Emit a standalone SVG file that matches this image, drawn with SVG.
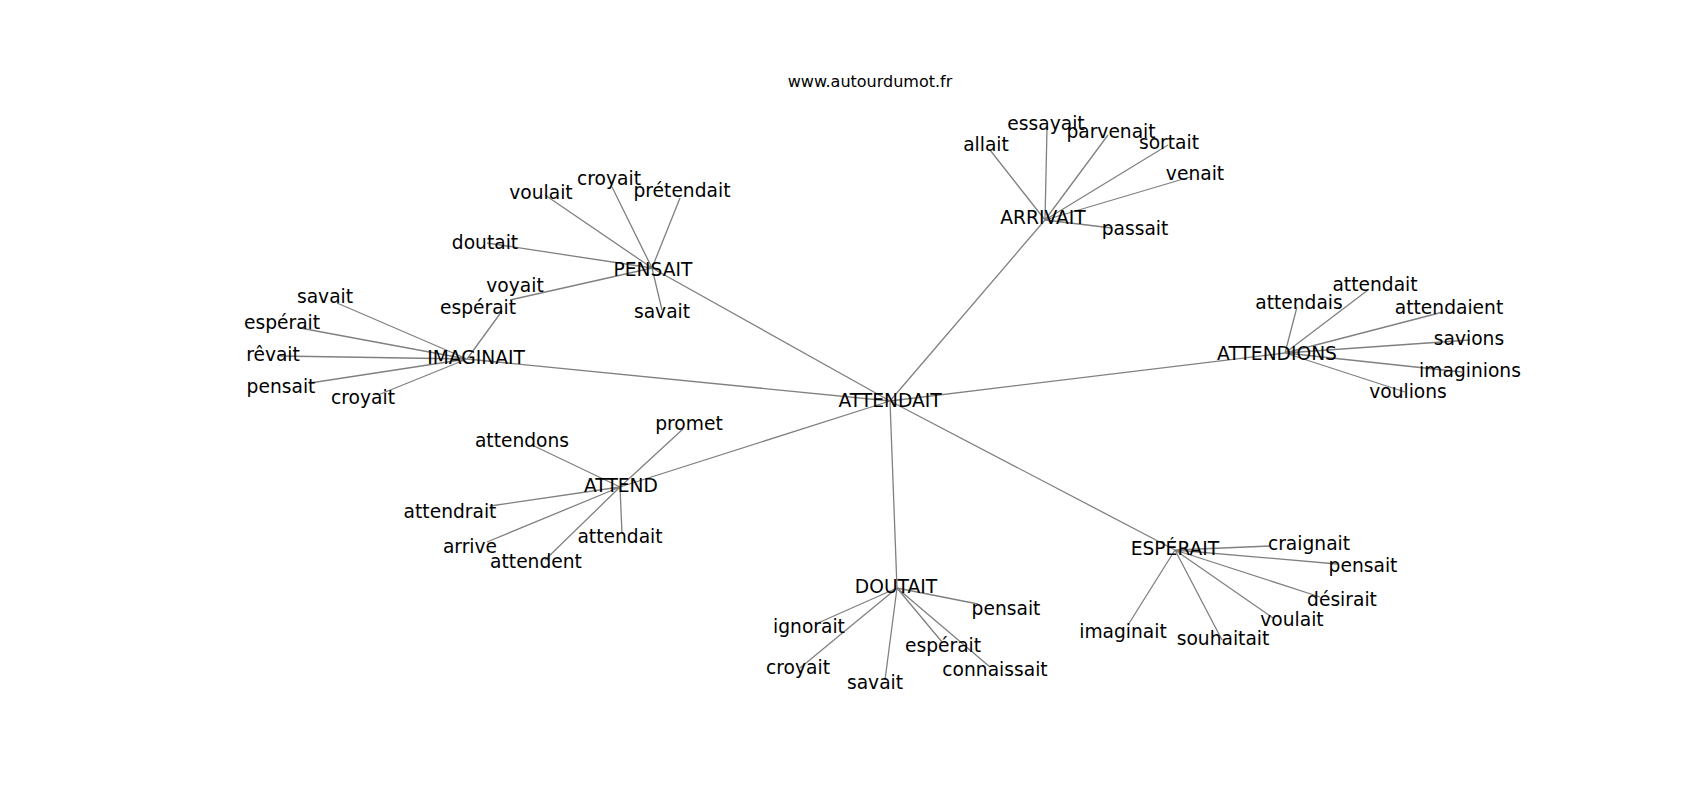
<svg xmlns="http://www.w3.org/2000/svg" width="1700" height="800" viewBox="0 0 1700 800">
<style>
.e{stroke:#808080;stroke-width:1.3;fill:none}
text{font-family:"DejaVu Sans","Liberation Sans",sans-serif;fill:#000;text-anchor:middle}
.l{font-size:18.67px}
.t{font-size:16px}
</style>
<rect width="1700" height="800" fill="#fff"/>
<text class="t" x="870" y="87">www.autourdumot.fr</text>
<g id="connectors">
<path class="e" d="M890 401L652 268M890 401L467 359M890 401L620 487M890 401L1045 220M890 401L1285 353M890 401L897 588M890 401L1175 550"/>
<path class="e" d="M652 268L545 195M652 268L612 187M652 268L680 198M652 268L487 243M652 268L510 300M652 268L662 310"/>
<path class="e" d="M467 359L502 311M467 359L337 303M467 359L300 328M467 359L280 356M467 359L310 383M467 359L378 395"/>
<path class="e" d="M620 487L532 445M620 487L683 429M620 487L490 506M620 487L487 542M620 487L545 560M620 487L622 533"/>
<path class="e" d="M1045 220L990 150M1045 220L1047 128M1045 220L1108 135M1045 220L1168 145M1045 220L1190 177M1045 220L1112 228"/>
<path class="e" d="M1285 353L1297 307M1285 353L1368 290M1285 353L1443 312M1285 353L1470 340M1285 353L1462 372M1285 353L1405 392"/>
<path class="e" d="M897 588L978 604M897 588L818 623M897 588L800 668M897 588L885 680M897 588L942 642M897 588L990 667"/>
<path class="e" d="M1175 550L1270 546M1175 550L1337 564M1175 550L1320 597M1175 550L1273 618M1175 550L1128 625M1175 550L1222 640"/>
</g>
<g id="n-attendait"><text class="l" x="890" y="407">ATTENDAIT</text></g>
<g id="n-pensait"><text class="l" x="653" y="276">PENSAIT</text></g>
<g id="n-pensait-voulait"><text class="l" x="541" y="199">voulait</text></g>
<g id="n-pensait-croyait"><text class="l" x="609" y="185">croyait</text></g>
<g id="n-pensait-pretendait"><text class="l" x="682" y="197">prétendait</text></g>
<g id="n-pensait-doutait"><text class="l" x="485" y="249">doutait</text></g>
<g id="n-pensait-voyait"><text class="l" x="515" y="292">voyait</text></g>
<g id="n-pensait-savait"><text class="l" x="662" y="318">savait</text></g>
<g id="n-imaginait"><text class="l" x="476" y="364">IMAGINAIT</text></g>
<g id="n-imaginait-esperait1"><text class="l" x="478" y="314">espérait</text></g>
<g id="n-imaginait-savait"><text class="l" x="325" y="303">savait</text></g>
<g id="n-imaginait-esperait2"><text class="l" x="282" y="329">espérait</text></g>
<g id="n-imaginait-revait"><text class="l" x="273" y="361">rêvait</text></g>
<g id="n-imaginait-pensait"><text class="l" x="281" y="393">pensait</text></g>
<g id="n-imaginait-croyait"><text class="l" x="363" y="404">croyait</text></g>
<g id="n-attend"><text class="l" x="621" y="492">ATTEND</text></g>
<g id="n-attend-attendons"><text class="l" x="522" y="447">attendons</text></g>
<g id="n-attend-promet"><text class="l" x="689" y="430">promet</text></g>
<g id="n-attend-attendrait"><text class="l" x="450" y="518">attendrait</text></g>
<g id="n-attend-arrive"><text class="l" x="470" y="553">arrive</text></g>
<g id="n-attend-attendent"><text class="l" x="536" y="568">attendent</text></g>
<g id="n-attend-attendait"><text class="l" x="620" y="543">attendait</text></g>
<g id="n-arrivait"><text class="l" x="1043" y="224">ARRIVAIT</text></g>
<g id="n-arrivait-allait"><text class="l" x="986" y="151">allait</text></g>
<g id="n-arrivait-essayait"><text class="l" x="1046" y="130">essayait</text></g>
<g id="n-arrivait-parvenait"><text class="l" x="1111" y="138">parvenait</text></g>
<g id="n-arrivait-sortait"><text class="l" x="1169" y="149">sortait</text></g>
<g id="n-arrivait-venait"><text class="l" x="1195" y="180">venait</text></g>
<g id="n-arrivait-passait"><text class="l" x="1135" y="235">passait</text></g>
<g id="n-attendions"><text class="l" x="1277" y="360">ATTENDIONS</text></g>
<g id="n-attendions-attendais"><text class="l" x="1299" y="309">attendais</text></g>
<g id="n-attendions-attendait"><text class="l" x="1375" y="291">attendait</text></g>
<g id="n-attendions-attendaient"><text class="l" x="1449" y="314">attendaient</text></g>
<g id="n-attendions-savions"><text class="l" x="1469" y="345">savions</text></g>
<g id="n-attendions-imaginions"><text class="l" x="1470" y="377">imaginions</text></g>
<g id="n-attendions-voulions"><text class="l" x="1408" y="398">voulions</text></g>
<g id="n-doutait"><text class="l" x="896" y="593">DOUTAIT</text></g>
<g id="n-doutait-pensait"><text class="l" x="1006" y="615">pensait</text></g>
<g id="n-doutait-ignorait"><text class="l" x="809" y="633">ignorait</text></g>
<g id="n-doutait-croyait"><text class="l" x="798" y="674">croyait</text></g>
<g id="n-doutait-savait"><text class="l" x="875" y="689">savait</text></g>
<g id="n-doutait-esperait"><text class="l" x="943" y="652">espérait</text></g>
<g id="n-doutait-connaissait"><text class="l" x="995" y="676">connaissait</text></g>
<g id="n-esperait"><text class="l" x="1175" y="555">ESPÉRAIT</text></g>
<g id="n-esperait-craignait"><text class="l" x="1309" y="550">craignait</text></g>
<g id="n-esperait-pensait"><text class="l" x="1363" y="572">pensait</text></g>
<g id="n-esperait-desirait"><text class="l" x="1342" y="606">désirait</text></g>
<g id="n-esperait-voulait"><text class="l" x="1292" y="626">voulait</text></g>
<g id="n-esperait-imaginait"><text class="l" x="1123" y="638">imaginait</text></g>
<g id="n-esperait-souhaitait"><text class="l" x="1223" y="645">souhaitait</text></g>
</svg>
